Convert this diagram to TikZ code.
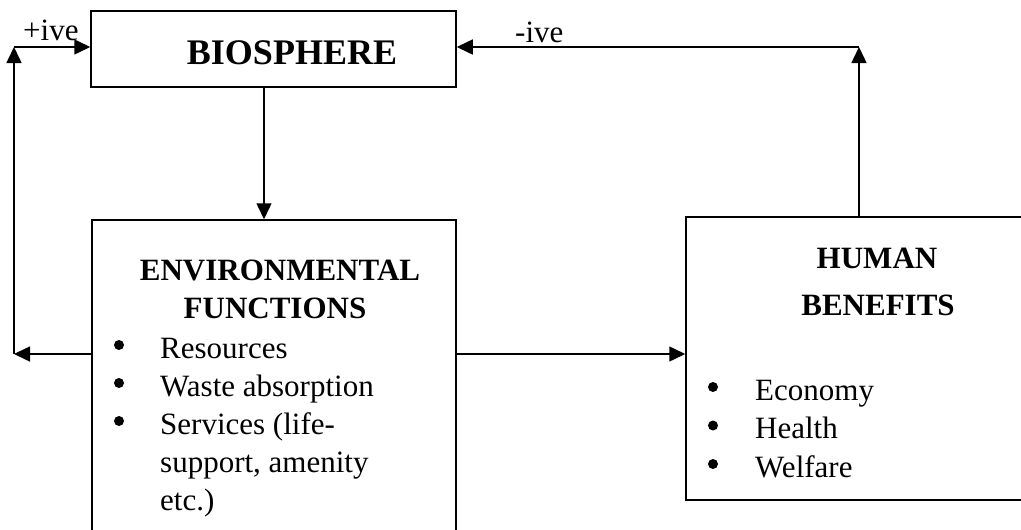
\documentclass[tikz,border=0pt]{standalone}
\usepackage{fontspec}
\setmainfont{Liberation Serif}
\usetikzlibrary{arrows.meta,positioning,calc}

\tikzset{
    box/.style={draw, line width=1.5pt, inner sep=0pt},
    arr/.style={line width=1.5pt, -{Triangle[length=16pt,width=15pt]}},
    dot/.style={circle, fill, inner sep=0pt, minimum size=10pt},
    body/.style={inner sep=0pt, font=\fontsize{31}{38}\selectfont},
    head/.style={inner sep=0pt, anchor=base, font=\fontsize{31}{38}\selectfont\bfseries}
}

\begin{document}
\begin{tikzpicture}[x=1pt,y=-1pt]
    \useasboundingbox (0,0) rectangle (1021,530);
    % boxes
    \node[box, minimum width=365pt, minimum height=76pt] (bio) at (273.5,49) {};
    \node[box, minimum width=364pt, minimum height=320pt] (env) at (274,380) {};
    \node[box, minimum width=344pt, minimum height=283pt] (hum) at (858,358.5) {};
    % texts
    \node[head, font=\fontsize{36}{40}\selectfont\bfseries] (biot) at (292,64) {BIOSPHERE};
    \node[head] (envh1) at (280,280) {ENVIRONMENTAL};
    \node[head] (envh2) at (275,318) {FUNCTIONS};
    \node[head] (humh1) at (877,268) {HUMAN};
    \node[head] (humh2) at (878,315) {BENEFITS};
    \foreach \i in {1,2,3}
        \node[dot] (envb\i) at (119,345+38*\i-38) {};
    \foreach \txt [count=\i] in {Resources, Waste absorption, Services (life-, {support, amenity}, etc.)}
        \node[body, anchor=base west] (envt\i) at (160,358+38*\i-38) {\txt};
    \foreach \txt [count=\i] in {Economy, Health, Welfare} {
        \node[dot] (humb\i) at (713,387+38.5*\i-38.5) {};
        \node[body, anchor=base west] (humt\i) at (755,400+38.5*\i-38.5) {\txt};
    }
    \node[body, anchor=base west] (pos) at (23,40) {+ive};
    \node[body, anchor=base west] (neg) at (515,42) {-ive};
    % corners of the loops
    \coordinate (lt) at (14,47);
    \coordinate (lb) at (14,354);
    \coordinate (rt) at (859,47);
    % connectors
    \draw[arr] ([xshift=-9.5pt]bio.south) -- ([xshift=-9.5pt]bio.south |- env.north);
    \draw[arr] (env.west |- lb) -- (lb);
    \draw[arr] (lb) -- (lt);
    \draw[arr] (lt) -- (bio.west |- lt);
    \draw[arr] (env.east |- lb) -- (hum.west |- lb);
    \draw[arr] (hum.north -| rt) -- (rt);
    \draw[arr] (rt) -- (bio.east |- rt);
\end{tikzpicture}
\end{document}
